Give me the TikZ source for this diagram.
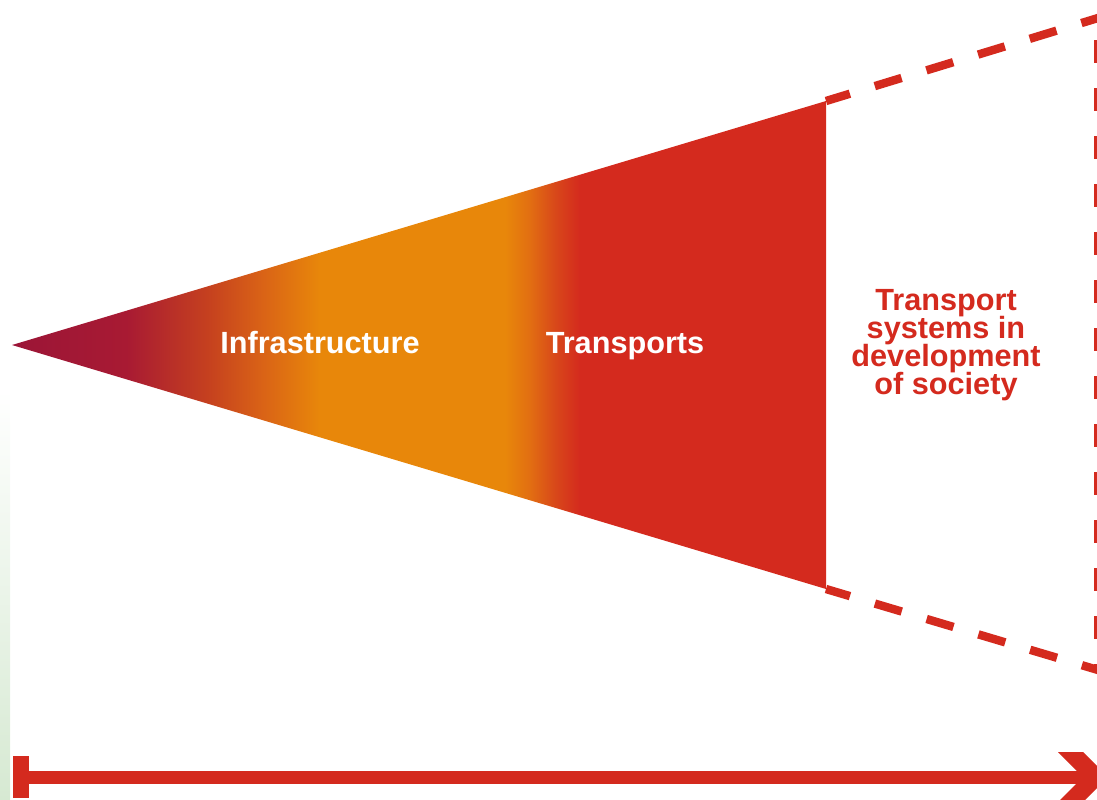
\documentclass[tikz,border=0pt]{standalone}
\usepackage{fontspec}
\setmainfont{Liberation Sans}
\usetikzlibrary{positioning}

\definecolor{sysred}{HTML}{D42A1E}
\definecolor{tipred}{HTML}{9B1537}
\definecolor{crimson}{HTML}{A81A33}
\definecolor{burnt}{HTML}{C5401F}
\definecolor{amber}{HTML}{DA6416}
\definecolor{orng}{HTML}{E8870A}
\definecolor{redorng}{HTML}{E26E12}
\definecolor{scarlet}{HTML}{D8471A}
\definecolor{paleleaf}{HTML}{D6E9D2}

% colour runs from the tip (25bp) to the cut edge (75bp)
\pgfdeclarehorizontalshading{wedge}{100bp}{color(0bp)=(tipred); color(25bp)=(tipred);
  color(32bp)=(crimson); color(37bp)=(burnt); color(40.5bp)=(amber);
  color(43.9bp)=(orng); color(55.3bp)=(orng); color(56.8bp)=(redorng);
  color(58.4bp)=(scarlet); color(59.9bp)=(sysred); color(100bp)=(sysred)}

\begin{document}
\begin{tikzpicture}[x=0.75pt,y=-0.75pt,
  wedge label/.style={text=white,anchor=base,font=\bfseries\fontsize{23}{26}\selectfont},
  side label/.style={text=sysred,align=center,
    font={\bfseries\fontsize{23}{21}\selectfont\setlength{\lineskiplimit}{-20pt}}},
  frame dash/.style={draw=sysred,line width=6.3pt,dash pattern=on 21pt off 19.5pt,dash phase=2.25pt},
  ]
  \useasboundingbox (0,0) rectangle (1097,800);
  \clip (0,0) rectangle (1097,800);
  \shade[top color=white,bottom color=paleleaf] (0,390) rectangle (10,800);

  \coordinate (tip) at (12,345);
  \coordinate (top) at (826,101);
  \coordinate (bot) at (826,589);
  \coordinate (topfar) at (1098,18);
  \coordinate (botfar) at (1098,670);

  \shade[shading=wedge] (tip) -- (top) -- (bot) -- cycle;
  \draw[frame dash] (top) -- (topfar);
  \draw[frame dash] (bot) -- (botfar);
  \draw[frame dash,dash pattern=on 17.25pt off 18.75pt,dash phase=19.5pt] (topfar) -- (botfar);

  \node[wedge label] (infra) at (320,353) {Infrastructure};
  \node[wedge label] (trans) at (625,353) {Transports};
  \node[side label] (society) at (946,345) {Transport\\systems in\\development\\of society};

  % time axis
  \coordinate (axstart) at (13,777);
  \coordinate (axend) at (1088,777);
  \draw[sysred,line width=9.75pt] (axstart) -- (axend);
  \fill[sysred] (axstart) ++(0,-21) rectangle ++(16,42);
  \fill[sysred] (1058,752) -- (1083,752) -- (1108,777) -- (1083,802) -- (1058,802) -- (1083,777) -- cycle;
\end{tikzpicture}
\end{document}
